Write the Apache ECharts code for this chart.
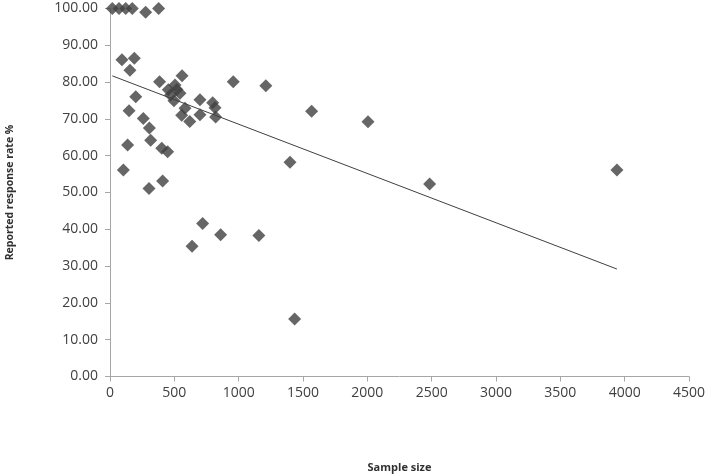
<!DOCTYPE html>
<html>
<head>
<meta charset="utf-8">
<script src="https://cdn.jsdelivr.net/npm/echarts@6/dist/echarts.min.js"></script>
<style>html,body{margin:0;padding:0;background:#fff;}#c{width:708px;height:476px;}</style>
</head>
<body>
<div id="c"></div>
<script>
// Sample sizes (x) and reported response rates % (y)
var sampleSize = [18, 70, 122, 173, 277, 378, 93, 189, 155, 385, 560, 958, 200, 148,
  453, 505, 544, 497, 470, 520, 583, 699, 798, 816, 821, 699, 620, 557, 259, 306,
  137, 316, 402, 448, 104, 409, 303, 1399, 720, 638, 860, 1157, 1435, 1567, 2005,
  2484, 3940, 1211];
var responseRate = [100, 100, 100, 100, 99, 100, 86.1, 86.5, 83.2, 80.1, 81.7, 80.1, 76.0, 72.2,
  77.9, 79.2, 77.0, 74.9, 76.5, 78.0, 72.9, 75.2, 74.4, 73.0, 70.5, 71.1, 69.3, 71.0, 70.1, 67.5,
  62.9, 64.2, 62.0, 61.1, 56.1, 53.1, 51.1, 58.2, 41.6, 35.4, 38.5, 38.3, 15.6, 72.1, 69.2,
  52.3, 56.1, 79.0];
// Linear trend line endpoints
var trendX = [18, 3940];
var trendY = [81.7, 29.2];
var yTicks = [0, 10, 20, 30, 40, 50, 60, 70, 80, 90, 100];
var xTicks = [0, 500, 1000, 1500, 2000, 2500, 3000, 3500, 4000, 4500];

var pts = sampleSize.map(function (x, i) { return [x, responseRate[i]]; });
var trend = trendX.map(function (x, i) { return [x, trendY[i]]; });

var font = '"Open Sans", "Liberation Sans", sans-serif';
var chart = echarts.init(document.getElementById('c'), null, {renderer: 'canvas'});
chart.setOption({
  animation: false,
  backgroundColor: '#ffffff',
  grid: {left: 110, right: 19, top: 8.5, bottom: 99.5, containLabel: false, outerBoundsMode: 'none'},
  xAxis: {
    type: 'value', min: xTicks[0], max: xTicks[xTicks.length - 1], interval: 500,
    name: 'Sample size', nameLocation: 'middle', nameGap: 86,
    nameTextStyle: {fontFamily: font, fontWeight: 'bold', fontSize: 11, color: '#303030'},
    axisLine: {lineStyle: {color: '#a6a6a6', width: 1}},
    axisTick: {show: true, length: 5, lineStyle: {color: '#a6a6a6'}},
    axisLabel: {fontFamily: font, fontSize: 14, color: '#404040', margin: 10,
      formatter: function (v) { return String(v); }},
    splitLine: {show: false}
  },
  yAxis: {
    type: 'value', min: yTicks[0], max: yTicks[yTicks.length - 1], interval: 10,
    name: 'Reported response rate %', nameLocation: 'middle', nameGap: 94, nameRotate: 90,
    nameTextStyle: {fontFamily: font, fontWeight: 'bold', fontSize: 10.5, color: '#303030'},
    axisLine: {show: true, lineStyle: {color: '#a6a6a6', width: 1}},
    axisTick: {show: true, length: 5, lineStyle: {color: '#a6a6a6'}},
    axisLabel: {fontFamily: font, fontSize: 14, color: '#404040', margin: 12,
      formatter: function (v) { return v.toFixed(2); }},
    splitLine: {show: false}
  },
  series: [
    {
      type: 'line', data: trend, symbol: 'none', silent: true, z: 1,
      lineStyle: {color: '#404040', width: 1}
    },
    {
      type: 'scatter', data: pts, symbol: 'diamond', symbolSize: 13, clip: false, z: 2,
      itemStyle: {color: '#404040'}
    }
  ]
});
</script>
</body>
</html>
